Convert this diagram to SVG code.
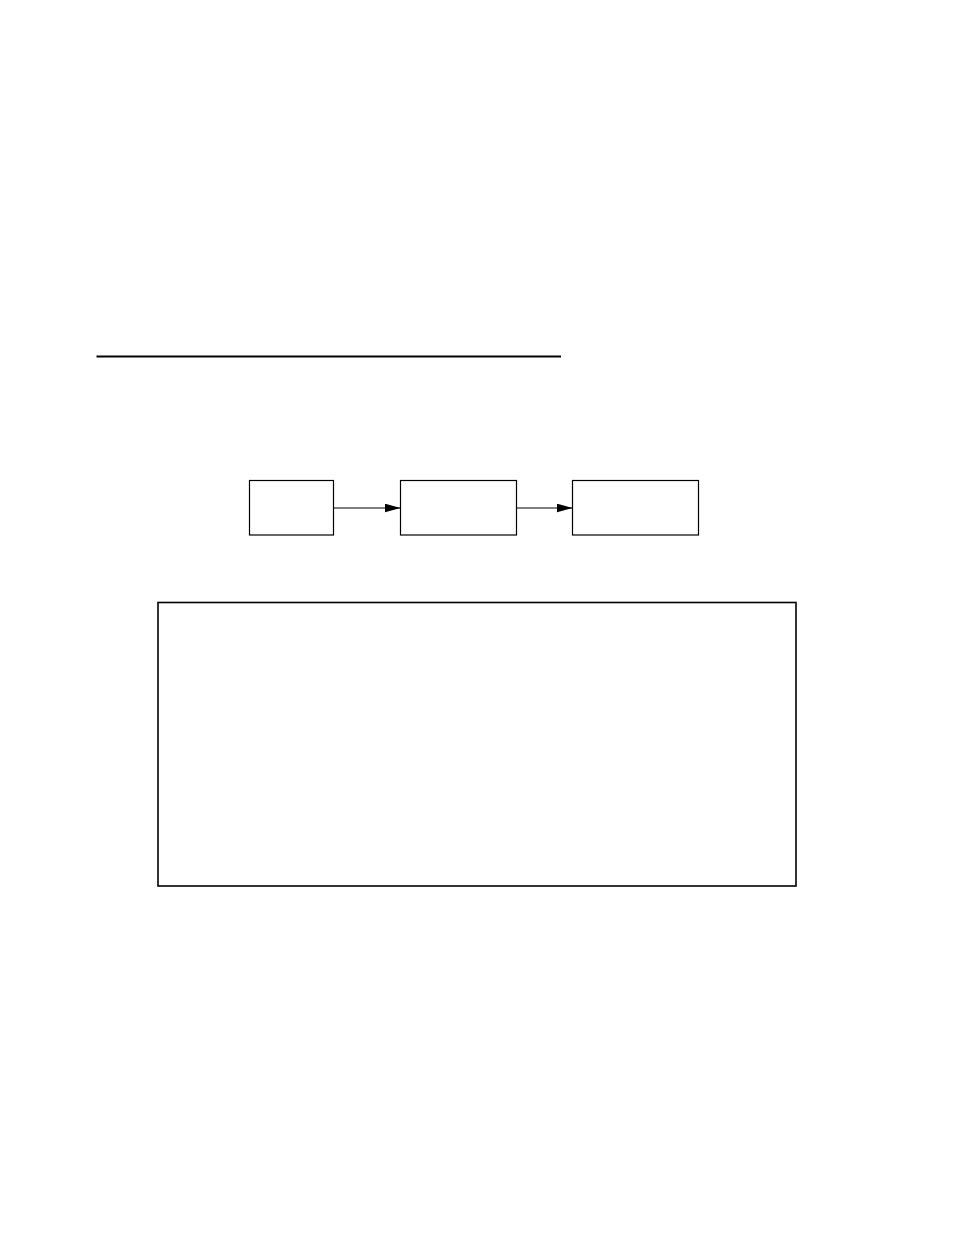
<svg xmlns="http://www.w3.org/2000/svg" width="954" height="1235" viewBox="0 0 954 1235">
<style>
.node{fill:#fff;stroke:#000;stroke-width:1.2}
.conn{fill:none;stroke:#000;stroke-width:1.2}
</style>
<defs>
<marker id="arr" markerUnits="userSpaceOnUse" markerWidth="17" markerHeight="10" refX="16" refY="4.5" orient="auto">
<path d="M0,0 L16,4.5 L0,9 Z" fill="#000"/>
</marker>
</defs>
<rect width="954" height="1235" fill="#fff"/>
<g id="rule"><line x1="96.5" y1="356.5" x2="561" y2="356.5" stroke="#000" stroke-width="2"/></g>
<g id="node1"><rect class="node" x="249.5" y="480.5" width="84" height="54.5"/></g>
<g id="node2"><rect class="node" x="400.5" y="480.5" width="116" height="54.5"/></g>
<g id="node3"><rect class="node" x="572.5" y="480.5" width="126" height="54.5"/></g>
<g id="panel"><rect x="158" y="602.5" width="638" height="283.5" fill="#fff" stroke="#000" stroke-width="1.6"/></g>
<g id="connectors">
<line class="conn" x1="333.5" y1="508" x2="400.5" y2="508" marker-end="url(#arr)"/>
<line class="conn" x1="516.5" y1="508" x2="572.5" y2="508" marker-end="url(#arr)"/>
</g>
</svg>
